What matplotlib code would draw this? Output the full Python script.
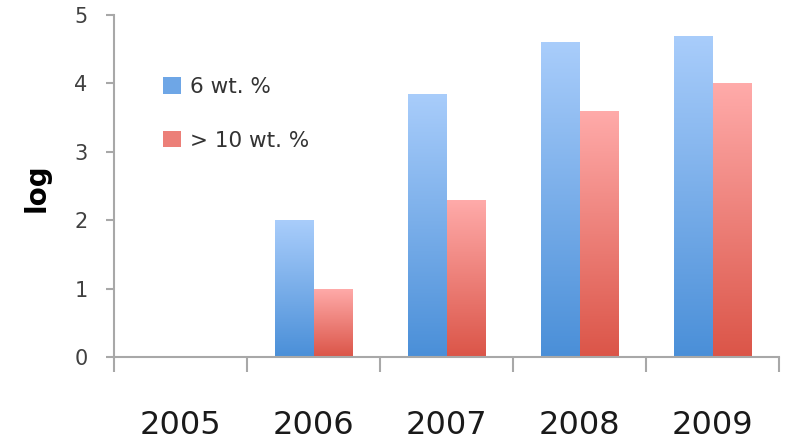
import numpy as np
import matplotlib.pyplot as plt
from matplotlib.colors import LinearSegmentedColormap
from matplotlib.patches import Patch

years = ['2005', '2006', '2007', '2008', '2009']
wt6 = [0, 2.0, 3.85, 4.6, 4.7]
wt10 = [0, 1.0, 2.3, 3.6, 4.0]
labels = ['6 wt. %', '> 10 wt. %']

blue = ('#4a8fd8', '#a9cdfb')   # bottom, top
red = ('#db5548', '#ffabaa')

fig = plt.figure(figsize=(7.88, 4.48), dpi=100)
ax = fig.add_axes([0.1447, 0.2031, 0.8439, 0.7634])

x = np.arange(len(years))
w = 0.29
grad = np.linspace(0, 1, 256).reshape(-1, 1)


def gradient_bars(xs, vals, cols):
    bars = ax.bar(xs, vals, w, color='none', edgecolor='none', zorder=2)
    cmap = LinearSegmentedColormap.from_list('g', list(cols))
    for b in bars:
        h = b.get_height()
        if h <= 0:
            continue
        im = ax.imshow(grad, cmap=cmap, origin='lower', aspect='auto',
                       extent=[b.get_x(), b.get_x() + b.get_width(), 0, h],
                       zorder=2)
        im.set_clip_path(b)
    return bars


gradient_bars(x - w / 2, wt6, blue)
gradient_bars(x + w / 2, wt10, red)

ax.set_xlim(-0.5, len(years) - 0.5)
ax.set_ylim(0, 5)

axis_grey = '#a8a8a8'
for s in ['top', 'right']:
    ax.spines[s].set_visible(False)
for s in ['left', 'bottom']:
    ax.spines[s].set_color(axis_grey)
    ax.spines[s].set_linewidth(1.5)

ax.set_yticks(range(6))
ax.tick_params(axis='y', direction='out', length=6, width=1.5, color=axis_grey,
               labelsize=15, labelcolor='#404040', pad=13)
ax.set_xticks(x)
ax.set_xticklabels(years)
ax.tick_params(axis='x', which='major', length=0, labelsize=23,
               labelcolor='#1a1a1a', pad=38)
ax.set_xticks(np.arange(-0.5, len(years)), minor=True)
ax.tick_params(axis='x', which='minor', direction='out', length=11, width=1.5,
               color=axis_grey)

ax.set_ylabel('log', fontsize=20, fontweight='bold')
ax.yaxis.set_label_coords(-0.096, 0.494)

handles = [Patch(facecolor='#6ea6e6', edgecolor='none'),
           Patch(facecolor='#ec7f78', edgecolor='none')]
ax.legend(handles, labels, loc='upper left', bbox_to_anchor=(0.045, 0.875),
          frameon=False, fontsize=15.5, handlelength=0.8, handleheight=0.8,
          handletextpad=0.45, labelspacing=1.55, labelcolor='#333333')

fig.savefig('out.png', dpi=100)
